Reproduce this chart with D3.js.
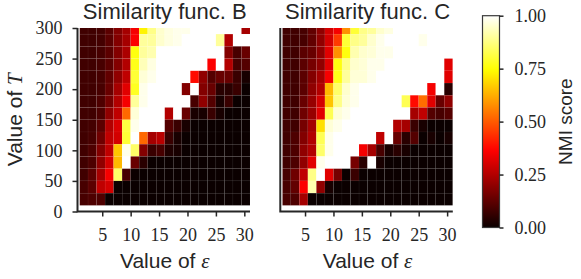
<!DOCTYPE html>
<html>
<head>
<meta charset="utf-8">
<script src="https://cdn.jsdelivr.net/npm/d3@7"></script>
<style>
  body { margin: 0; background: #fff; }
  svg { display: block; }
</style>
</head>
<body>
<svg id="chart"></svg>
<script>
// epsilon: lower edge of each column (step 1.5), T: lower edge of each row (step 20)
const epsValues = [1, 2.5, 4, 5.5, 7, 8.5, 10, 11.5, 13, 14.5, 16, 17.5, 19, 20.5, 22, 23.5, 25, 26.5, 28, 29.5];
const tValues = [290, 270, 250, 230, 210, 190, 170, 150, 130, 110, 90, 70, 50, 30, 10];
const epsTicks = [5, 10, 15, 20, 25, 30];
const tTicks = [0, 50, 100, 150, 200, 250, 300];
const cbTicks = [0, 0.25, 0.5, 0.75, 1];
const panelNames = ["Similarity func. B", "Similarity func. C"];

// NMI score, rows from T=290 (top) to T=10 (bottom)
const nmiB = [
  [.08, .08, .085, .12, .18, .23, .35, .73, .88, .95, .97, .98, .98, 1, 1, 1, 1, 1, 1, .23],
  [.08, .08, .085, .12, .18, .23, .36, .9, .9, .95, .97, .98, 1, 1, 1, 1, .9, .25, 1, 1],
  [.08, .08, .09, .12, .18, .24, .76, .9, .92, 1, 1, 1, 1, 1, 1, 1, 1, .18, .09, .14],
  [.08, .08, .09, .12, .18, .25, .77, .93, .97, 1, 1, 1, 1, 1, 1, .36, 1, .25, .09, .11],
  [.08, .08, .09, .13, .2, .27, .8, .96, .98, 1, 1, 1, 1, .38, .2, .11, .14, .14, .07, .02],
  [.08, .08, .09, .14, .23, .32, .78, .98, 1, 1, 1, 1, .18, 1, .18, .14, .045, .045, .07, 0],
  [.08, .08, .1, .16, .25, .35, .9, .98, 1, 1, 1, 1, 1, .09, .2, .11, .02, .07, 0, 0],
  [.08, .08, .1, .2, .27, .52, .96, 1, 1, 1, .25, 1, .14, .02, .02, .07, .02, 0, 0, 0],
  [.08, .085, .12, .25, .31, .81, .98, 1, 1, 1, .11, .07, .02, 0, 0, 0, 0, 0, 0, 0],
  [.08, .09, .15, .27, .3, .8, 1, .52, .23, .26, .07, .02, 0, 0, 0, 0, 0, 0, 0, 0],
  [.08, .1, .18, .27, .66, .98, .85, .18, .07, .09, .03, .02, 0, 0, 0, 0, 0, 0, 0, 0],
  [.08, .1, .2, .3, .64, 1, .14, .045, 0, 0, 0, 0, 0, 0, 0, 0, 0, 0, 0, 0],
  [.08, .12, .23, .35, .85, .09, 0, 0, 0, 0, 0, 0, 0, 0, 0, 0, 0, 0, 0, 0],
  [.09, .12, .27, .3, 0, 0, 0, 0, 0, 0, 0, 0, 0, 0, 0, 0, 0, 0, 0, 0],
  [.09, .1, .1, 0, 0, 0, 0, 0, 0, 0, 0, 0, 0, 0, 0, 0, 0, 0, 0, 0]
];

const nmiC = [
  [.08, .08, .09, .13, .2, .3, .35, .58, .8, .88, .9, .95, .97, 1, 1, 1, 1, 1, 1, 1],
  [.08, .08, .09, .13, .2, .3, .45, .8, .88, .9, .95, .98, 1, 1, 1, 1, .98, 1, 1, 1],
  [.08, .08, .12, .14, .2, .32, .58, .76, .92, .95, .96, .98, .98, 1, 1, 1, 1, 1, 1, 1],
  [.08, .08, .12, .16, .2, .32, .76, .88, .95, .96, .98, .98, 1, 1, 1, 1, 1, 1, 1, .32],
  [.08, .08, .12, .18, .23, .35, .77, .9, .96, .96, .98, 1, 1, 1, 1, 1, 1, 1, 1, .32],
  [.08, .08, .12, .2, .25, .64, .85, .95, .98, 1, 1, 1, 1, 1, 1, 1, 1, .35, 1, .045],
  [.08, .08, .14, .21, .3, .66, .88, .96, .98, 1, 1, 1, 1, 1, .83, .38, .53, .32, .14, .2],
  [.08, .08, .15, .21, .32, .83, .96, .98, 1, 1, 1, 1, 1, 1, 1, .23, .27, .11, .09, .11],
  [.08, .08, .16, .23, .7, .96, .98, 1, 1, 1, 1, 1, 1, .25, .23, .07, .02, 0, 0, 0],
  [.08, .1, .18, .25, .83, .98, 1, 1, 1, 1, 1, .27, 1, .14, .045, .11, 0, .02, 0, .02],
  [.08, .1, .2, .25, .85, .98, 1, 1, 1, .35, .23, .09, .02, .045, .02, 0, 0, 0, 0, 0],
  [.08, .1, .2, .32, .98, 1, 1, 1, .16, .045, 1, .02, 0, 0, 0, 0, 0, 0, 0, 0],
  [.09, .15, .27, .88, 1, .32, .16, 0, .07, 0, 0, 0, 0, 0, 0, 0, 0, 0, 0, 0],
  [.09, .13, .36, .92, .2, .02, 0, 0, 0, 0, 0, 0, 0, 0, 0, 0, 0, 0, 0, 0],
  [.09, .1, .23, 0, 0, 0, 0, 0, 0, 0, 0, 0, 0, 0, 0, 0, 0, 0, 0, 0]
];

const epsStep = 1.5, tStep = 20;
const W = 581, H = 279;
const ink = "#262626";
const serif = "'Liberation Serif', 'DejaVu Serif', serif";
const sans = "'Liberation Sans', 'DejaVu Sans', sans-serif";

// matplotlib "hot" colormap
function hot(v) {
  const r = Math.min(1, 0.0416 + 0.9584 * v / 0.365079);
  const g = Math.max(0, Math.min(1, (v - 0.365079) / 0.380953));
  const b = Math.max(0, Math.min(1, (v - 0.746032) / 0.253968));
  return d3.rgb(r * 255, g * 255, b * 255).formatHex();
}

const svg = d3.select("#chart").attr("width", W).attr("height", H);

const yScale = d3.scaleLinear().domain([0, 300]).range([211.5, 28]);

const panels = [
  { name: panelNames[0], data: nmiB, left: 79.5, showY: true },
  { name: panelNames[1], data: nmiC, left: 282.3, showY: false }
];

panels.forEach((p, i) => {
  const xScale = d3.scaleLinear().domain([1, 31]).range([p.left, p.left + 170.5]);
  const g = svg.append("g");

  const clipId = "clip" + i;
  svg.append("clipPath").attr("id", clipId)
    .append("rect")
    .attr("x", xScale(1)).attr("y", yScale(300))
    .attr("width", xScale(31) - xScale(1))
    .attr("height", yScale(0) - yScale(300));

  const cells = [];
  p.data.forEach((row, r) => row.forEach((v, c) => cells.push({ t: tValues[r], e: epsValues[c], v })));

  g.append("g").attr("clip-path", `url(#${clipId})`)
    .selectAll("rect")
    .data(cells)
    .join("rect")
      .attr("x", d => xScale(d.e))
      .attr("y", d => yScale(d.t + tStep))
      .attr("width", d => xScale(d.e + epsStep) - xScale(d.e))
      .attr("height", d => yScale(d.t) - yScale(d.t + tStep))
      .attr("fill", d => hot(d.v))
      .attr("stroke", "rgba(255,255,255,0.06)")
      .attr("stroke-width", 0.5);

  const spineX = p.left - 2;

  // x axis
  const xAxisG = g.append("g")
    .attr("transform", `translate(0,${yScale(0)})`)
    .call(d3.axisBottom(xScale).tickValues(epsTicks).tickSize(5).tickSizeOuter(0).tickPadding(12));
  xAxisG.select(".domain").remove();
  xAxisG.selectAll("line").attr("stroke", ink).attr("stroke-width", 1.5);
  xAxisG.selectAll("text").attr("font-family", serif).attr("font-size", 18).attr("fill", ink);

  // y axis
  if (p.showY) {
    const yAxisG = g.append("g")
      .attr("transform", `translate(${spineX},0)`)
      .call(d3.axisLeft(yScale).tickValues(tTicks).tickSize(5).tickSizeOuter(0).tickPadding(10));
    yAxisG.select(".domain").remove();
    yAxisG.selectAll("line").attr("stroke", ink).attr("stroke-width", 1.5);
    yAxisG.selectAll("text").attr("font-family", serif).attr("font-size", 18).attr("fill", ink);
  }

  // spines
  g.append("path")
    .attr("d", `M${spineX},${yScale(300)}V${yScale(0)}H${xScale(31)}`)
    .attr("fill", "none").attr("stroke", ink).attr("stroke-width", 2);

  // title
  g.append("text")
    .attr("x", (xScale(1) + xScale(31)) / 2).attr("y", 19)
    .attr("text-anchor", "middle")
    .attr("font-family", sans).attr("font-size", 22).attr("fill", ink)
    .text(p.name);

  // x label
  const xl = g.append("text")
    .attr("x", (xScale(1) + xScale(31)) / 2).attr("y", 268)
    .attr("text-anchor", "middle")
    .attr("font-family", sans).attr("font-size", 21).attr("fill", ink);
  xl.append("tspan").text("Value of ");
  xl.append("tspan").attr("font-family", serif).attr("font-style", "italic").text("ε");
});

// y label
const yl = svg.append("text")
  .attr("transform", `translate(22,${(yScale(0) + yScale(300)) / 2}) rotate(-90)`)
  .attr("text-anchor", "middle")
  .attr("font-family", sans).attr("font-size", 21).attr("fill", ink);
yl.append("tspan").text("Value of ");
yl.append("tspan").attr("font-family", serif).attr("font-style", "italic").text("T");

// colorbar
const cbScale = d3.scaleLinear().domain([0, 1]).range([227.5, 15.7]);
const cbX = 482.5, cbW = 17;
const grad = svg.append("defs").append("linearGradient")
  .attr("id", "hotGrad").attr("x1", 0).attr("y1", 1).attr("x2", 0).attr("y2", 0);
grad.selectAll("stop")
  .data(d3.range(0, 1.0001, 0.02))
  .join("stop")
    .attr("offset", d => d)
    .attr("stop-color", d => hot(d));

svg.append("rect")
  .attr("x", cbX).attr("y", cbScale(1))
  .attr("width", cbW).attr("height", cbScale(0) - cbScale(1))
  .attr("fill", "url(#hotGrad)")
  .attr("stroke", "#3a3a3a").attr("stroke-width", 1.2);

const cbAxisG = svg.append("g")
  .attr("transform", `translate(${cbX + cbW},0)`)
  .call(d3.axisRight(cbScale).tickValues(cbTicks).tickSize(4).tickSizeOuter(0).tickPadding(11).tickFormat(d3.format(".2f")));
cbAxisG.select(".domain").remove();
cbAxisG.selectAll("line").attr("stroke", ink).attr("stroke-width", 1.5);
cbAxisG.selectAll("text").attr("font-family", serif).attr("font-size", 18).attr("fill", ink);

svg.append("text")
  .attr("transform", `translate(572,${(cbScale(0) + cbScale(1)) / 2}) rotate(-90)`)
  .attr("text-anchor", "middle")
  .attr("font-family", sans).attr("font-size", 19).attr("fill", ink)
  .text("NMI score");
</script>
</body>
</html>
